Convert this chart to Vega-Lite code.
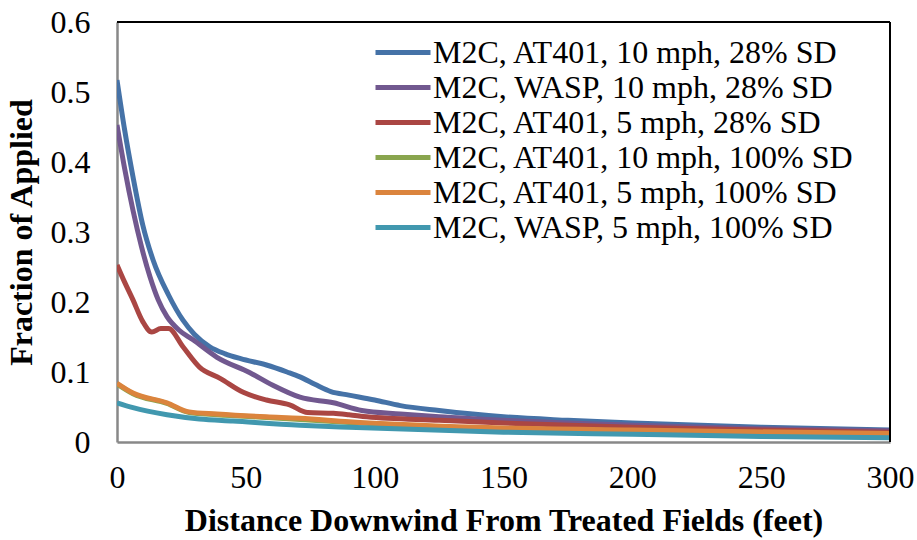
{
  "$schema": "https://vega.github.io/schema/vega-lite/v6.json",
  "width": 773,
  "height": 420,
  "autosize": "none",
  "padding": {"left": 117, "top": 22, "right": 27, "bottom": 98},
  "background": "white",
  "config": {
    "font": "Liberation Serif",
    "view": {"stroke": null},
    "axis": {"grid": false, "ticks": false, "labelFlush": false, "labelFont": "Liberation Serif", "labelFontSize": 32, "labelColor": "black", "titleFont": "Liberation Serif", "titleFontWeight": "bold", "titleFontSize": 32, "titleColor": "black", "domainColor": "#888888", "domainWidth": 2.5}
  },
  "data": {"values": [
    {"x":0,"y":0.517,"s":"M2C, AT401, 10 mph, 28% SD"},
    {"x":3,"y":0.445,"s":"M2C, AT401, 10 mph, 28% SD"},
    {"x":6.2,"y":0.379,"s":"M2C, AT401, 10 mph, 28% SD"},
    {"x":10,"y":0.31,"s":"M2C, AT401, 10 mph, 28% SD"},
    {"x":14,"y":0.26,"s":"M2C, AT401, 10 mph, 28% SD"},
    {"x":20,"y":0.21,"s":"M2C, AT401, 10 mph, 28% SD"},
    {"x":25.6,"y":0.174,"s":"M2C, AT401, 10 mph, 28% SD"},
    {"x":30,"y":0.154,"s":"M2C, AT401, 10 mph, 28% SD"},
    {"x":36,"y":0.136,"s":"M2C, AT401, 10 mph, 28% SD"},
    {"x":42,"y":0.126,"s":"M2C, AT401, 10 mph, 28% SD"},
    {"x":48,"y":0.119,"s":"M2C, AT401, 10 mph, 28% SD"},
    {"x":58,"y":0.11,"s":"M2C, AT401, 10 mph, 28% SD"},
    {"x":66,"y":0.1,"s":"M2C, AT401, 10 mph, 28% SD"},
    {"x":71,"y":0.093,"s":"M2C, AT401, 10 mph, 28% SD"},
    {"x":77,"y":0.082,"s":"M2C, AT401, 10 mph, 28% SD"},
    {"x":83,"y":0.072,"s":"M2C, AT401, 10 mph, 28% SD"},
    {"x":90,"y":0.067,"s":"M2C, AT401, 10 mph, 28% SD"},
    {"x":100,"y":0.06,"s":"M2C, AT401, 10 mph, 28% SD"},
    {"x":110,"y":0.052,"s":"M2C, AT401, 10 mph, 28% SD"},
    {"x":125,"y":0.045,"s":"M2C, AT401, 10 mph, 28% SD"},
    {"x":150,"y":0.036,"s":"M2C, AT401, 10 mph, 28% SD"},
    {"x":175,"y":0.031,"s":"M2C, AT401, 10 mph, 28% SD"},
    {"x":200,"y":0.027,"s":"M2C, AT401, 10 mph, 28% SD"},
    {"x":250,"y":0.021,"s":"M2C, AT401, 10 mph, 28% SD"},
    {"x":300,"y":0.017,"s":"M2C, AT401, 10 mph, 28% SD"},

    {"x":0,"y":0.453,"s":"M2C, WASP, 10 mph, 28% SD"},
    {"x":3,"y":0.39,"s":"M2C, WASP, 10 mph, 28% SD"},
    {"x":6.2,"y":0.331,"s":"M2C, WASP, 10 mph, 28% SD"},
    {"x":9.5,"y":0.279,"s":"M2C, WASP, 10 mph, 28% SD"},
    {"x":12.8,"y":0.236,"s":"M2C, WASP, 10 mph, 28% SD"},
    {"x":16,"y":0.203,"s":"M2C, WASP, 10 mph, 28% SD"},
    {"x":19.4,"y":0.179,"s":"M2C, WASP, 10 mph, 28% SD"},
    {"x":24,"y":0.16,"s":"M2C, WASP, 10 mph, 28% SD"},
    {"x":29.5,"y":0.146,"s":"M2C, WASP, 10 mph, 28% SD"},
    {"x":38.8,"y":0.121,"s":"M2C, WASP, 10 mph, 28% SD"},
    {"x":51.6,"y":0.099,"s":"M2C, WASP, 10 mph, 28% SD"},
    {"x":60.5,"y":0.081,"s":"M2C, WASP, 10 mph, 28% SD"},
    {"x":71,"y":0.064,"s":"M2C, WASP, 10 mph, 28% SD"},
    {"x":84,"y":0.056,"s":"M2C, WASP, 10 mph, 28% SD"},
    {"x":95,"y":0.045,"s":"M2C, WASP, 10 mph, 28% SD"},
    {"x":110,"y":0.04,"s":"M2C, WASP, 10 mph, 28% SD"},
    {"x":125,"y":0.036,"s":"M2C, WASP, 10 mph, 28% SD"},
    {"x":150,"y":0.031,"s":"M2C, WASP, 10 mph, 28% SD"},
    {"x":200,"y":0.024,"s":"M2C, WASP, 10 mph, 28% SD"},
    {"x":250,"y":0.019,"s":"M2C, WASP, 10 mph, 28% SD"},
    {"x":300,"y":0.016,"s":"M2C, WASP, 10 mph, 28% SD"},

    {"x":0,"y":0.253,"s":"M2C, AT401, 5 mph, 28% SD"},
    {"x":3,"y":0.228,"s":"M2C, AT401, 5 mph, 28% SD"},
    {"x":6.2,"y":0.203,"s":"M2C, AT401, 5 mph, 28% SD"},
    {"x":10,"y":0.172,"s":"M2C, AT401, 5 mph, 28% SD"},
    {"x":13.5,"y":0.157,"s":"M2C, AT401, 5 mph, 28% SD"},
    {"x":17,"y":0.162,"s":"M2C, AT401, 5 mph, 28% SD"},
    {"x":20,"y":0.162,"s":"M2C, AT401, 5 mph, 28% SD"},
    {"x":25.6,"y":0.136,"s":"M2C, AT401, 5 mph, 28% SD"},
    {"x":32,"y":0.107,"s":"M2C, AT401, 5 mph, 28% SD"},
    {"x":40,"y":0.091,"s":"M2C, AT401, 5 mph, 28% SD"},
    {"x":49,"y":0.071,"s":"M2C, AT401, 5 mph, 28% SD"},
    {"x":58,"y":0.06,"s":"M2C, AT401, 5 mph, 28% SD"},
    {"x":67,"y":0.053,"s":"M2C, AT401, 5 mph, 28% SD"},
    {"x":74,"y":0.042,"s":"M2C, AT401, 5 mph, 28% SD"},
    {"x":84,"y":0.041,"s":"M2C, AT401, 5 mph, 28% SD"},
    {"x":90,"y":0.039,"s":"M2C, AT401, 5 mph, 28% SD"},
    {"x":97,"y":0.036,"s":"M2C, AT401, 5 mph, 28% SD"},
    {"x":125,"y":0.031,"s":"M2C, AT401, 5 mph, 28% SD"},
    {"x":150,"y":0.027,"s":"M2C, AT401, 5 mph, 28% SD"},
    {"x":200,"y":0.021,"s":"M2C, AT401, 5 mph, 28% SD"},
    {"x":250,"y":0.017,"s":"M2C, AT401, 5 mph, 28% SD"},
    {"x":300,"y":0.014,"s":"M2C, AT401, 5 mph, 28% SD"},

    {"x":0,"y":0.083,"s":"M2C, AT401, 10 mph, 100% SD"},
    {"x":6.2,"y":0.069,"s":"M2C, AT401, 10 mph, 100% SD"},
    {"x":19.4,"y":0.055,"s":"M2C, AT401, 10 mph, 100% SD"},
    {"x":28,"y":0.042,"s":"M2C, AT401, 10 mph, 100% SD"},
    {"x":38.8,"y":0.039,"s":"M2C, AT401, 10 mph, 100% SD"},
    {"x":58,"y":0.035,"s":"M2C, AT401, 10 mph, 100% SD"},
    {"x":90,"y":0.028,"s":"M2C, AT401, 10 mph, 100% SD"},
    {"x":150,"y":0.019,"s":"M2C, AT401, 10 mph, 100% SD"},
    {"x":200,"y":0.016,"s":"M2C, AT401, 10 mph, 100% SD"},
    {"x":300,"y":0.011,"s":"M2C, AT401, 10 mph, 100% SD"},

    {"x":0,"y":0.084,"s":"M2C, AT401, 5 mph, 100% SD"},
    {"x":6.2,"y":0.07,"s":"M2C, AT401, 5 mph, 100% SD"},
    {"x":19.4,"y":0.056,"s":"M2C, AT401, 5 mph, 100% SD"},
    {"x":28,"y":0.043,"s":"M2C, AT401, 5 mph, 100% SD"},
    {"x":38.8,"y":0.04,"s":"M2C, AT401, 5 mph, 100% SD"},
    {"x":58,"y":0.036,"s":"M2C, AT401, 5 mph, 100% SD"},
    {"x":71,"y":0.034,"s":"M2C, AT401, 5 mph, 100% SD"},
    {"x":90,"y":0.029,"s":"M2C, AT401, 5 mph, 100% SD"},
    {"x":150,"y":0.02,"s":"M2C, AT401, 5 mph, 100% SD"},
    {"x":200,"y":0.017,"s":"M2C, AT401, 5 mph, 100% SD"},
    {"x":300,"y":0.012,"s":"M2C, AT401, 5 mph, 100% SD"},

    {"x":0,"y":0.056,"s":"M2C, WASP, 5 mph, 100% SD"},
    {"x":6.2,"y":0.049,"s":"M2C, WASP, 5 mph, 100% SD"},
    {"x":19.4,"y":0.039,"s":"M2C, WASP, 5 mph, 100% SD"},
    {"x":32,"y":0.033,"s":"M2C, WASP, 5 mph, 100% SD"},
    {"x":45,"y":0.03,"s":"M2C, WASP, 5 mph, 100% SD"},
    {"x":71,"y":0.024,"s":"M2C, WASP, 5 mph, 100% SD"},
    {"x":90,"y":0.021,"s":"M2C, WASP, 5 mph, 100% SD"},
    {"x":150,"y":0.014,"s":"M2C, WASP, 5 mph, 100% SD"},
    {"x":200,"y":0.011,"s":"M2C, WASP, 5 mph, 100% SD"},
    {"x":250,"y":0.008,"s":"M2C, WASP, 5 mph, 100% SD"},
    {"x":300,"y":0.006,"s":"M2C, WASP, 5 mph, 100% SD"}
  ]},
  "layer": [
    {
      "mark": {"type": "line", "strokeWidth": 5, "interpolate": "monotone", "clip": true},
      "encoding": {
        "x": {"field": "x", "type": "quantitative", "scale": {"domain": [0, 300], "nice": false}, "axis": {"values": [0,50,100,150,200,250,300], "labelPadding": 20, "title": "Distance Downwind From Treated Fields (feet)", "titlePadding": 12}},
        "y": {"field": "y", "type": "quantitative", "scale": {"domain": [0, 0.6], "nice": false}, "axis": {"values": [0,0.1,0.2,0.3,0.4,0.5,0.6], "format": "~g", "labelPadding": 27, "title": "Fraction of Applied", "titlePadding": 12}},
        "color": {"field": "s", "type": "nominal", "sort": null,
          "scale": {"domain": ["M2C, AT401, 10 mph, 28% SD","M2C, WASP, 10 mph, 28% SD","M2C, AT401, 5 mph, 28% SD","M2C, AT401, 10 mph, 100% SD","M2C, AT401, 5 mph, 100% SD","M2C, WASP, 5 mph, 100% SD"],
                    "range": ["#4572A7","#71588F","#AA4643","#89A54E","#DB843D","#4198AF"]},
          "legend": {"title": null, "orient": "none", "legendX": 256, "legendY": 13, "symbolType": "stroke", "symbolSize": 3025, "symbolStrokeWidth": 5, "labelFontSize": 32, "labelFont": "Liberation Serif", "labelColor": "black", "labelOffset": 0, "labelLimit": 600, "rowPadding": 0, "clipHeight": 35, "padding": 0}}
      }
    },
    {
      "mark": {"type": "rule", "color": "black", "strokeWidth": 2},
      "encoding": {"x": {"datum": 0}, "x2": {"datum": 300}, "y": {"datum": 0.6}}
    },
    {
      "mark": {"type": "rule", "color": "black", "strokeWidth": 2},
      "encoding": {"x": {"datum": 300}, "y": {"datum": 0}, "y2": {"datum": 0.6}}
    }
  ]
}
